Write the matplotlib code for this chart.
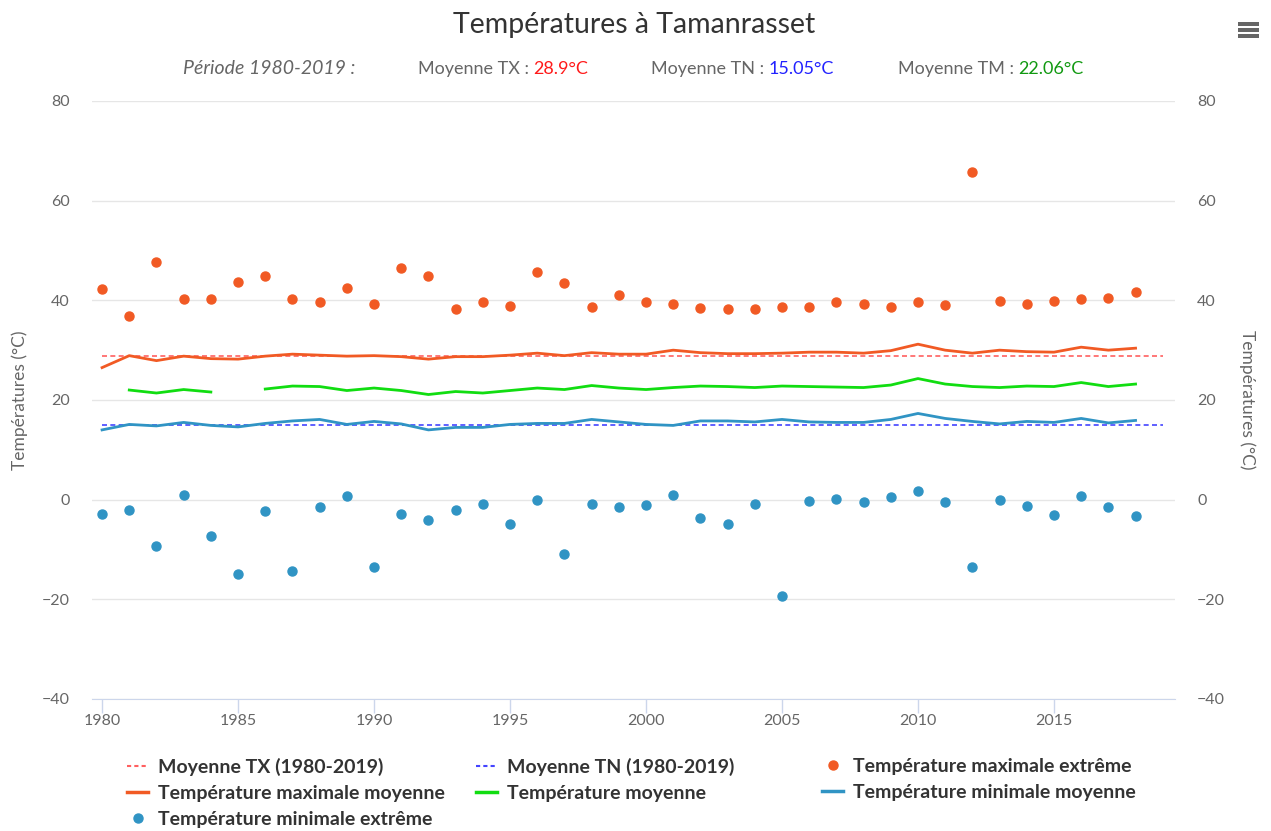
import numpy as np
import matplotlib
matplotlib.use('Agg')
import matplotlib.pyplot as plt
from matplotlib.lines import Line2D
from matplotlib.patches import Rectangle

plt.rcParams['font.family'] = ['Lato', 'DejaVu Sans']

years = list(range(1980, 2019))

tx_extreme = [42.2, 36.9, 47.7, 40.2, 40.2, 43.6, 44.8, 40.2, 39.6, 42.5,
              39.3, 46.5, 44.8, 38.2, 39.6, 38.8, 45.6, 43.4, 38.7, 41.0,
              39.6, 39.3, 38.4, 38.2, 38.2, 38.7, 38.7, 39.6, 39.3, 38.7,
              39.6, 39.0, 65.7, 39.8, 39.3, 39.9, 40.2, 40.4, 41.6]

tn_extreme = [-2.8, -2.0, -9.2, 0.9, -7.2, -15.0, -2.3, -14.4, -1.4, 0.7,
              -13.5, -2.8, -4.0, -2.0, -0.9, -4.9, 0.0, -11.0, -0.8, -1.4,
              -1.1, 0.9, -3.7, -4.8, -0.9, -19.3, -0.3, 0.1, -0.5, 0.5,
              1.8, -0.5, -13.5, -0.1, -1.3, -3.0, 0.7, -1.4, -3.3]

tx_mean = [26.5, 28.9, 27.9, 28.8, 28.3, 28.2, 28.8, 29.2, 29.0, 28.8,
           28.9, 28.7, 28.2, 28.7, 28.7, 29.0, 29.4, 28.9, 29.5, 29.2,
           29.2, 30.0, 29.5, 29.3, 29.3, 29.4, 29.6, 29.6, 29.4, 29.9,
           31.2, 30.0, 29.4, 30.0, 29.7, 29.6, 30.6, 30.0, 30.4]

tm_mean = [np.nan, 22.0, 21.4, 22.1, 21.6, np.nan, 22.2, 22.8, 22.7, 21.9,
           22.4, 21.9, 21.1, 21.7, 21.4, 21.9, 22.4, 22.1, 22.9, 22.4,
           22.1, 22.5, 22.8, 22.7, 22.5, 22.8, 22.7, 22.6, 22.5, 23.0,
           24.3, 23.2, 22.7, 22.5, 22.8, 22.7, 23.5, 22.7, 23.2]

tn_mean = [14.0, 15.1, 14.8, 15.5, 14.9, 14.6, 15.3, 15.8, 16.1, 15.1,
           15.7, 15.2, 14.0, 14.5, 14.5, 15.1, 15.3, 15.3, 16.1, 15.6,
           15.1, 14.9, 15.8, 15.8, 15.6, 16.1, 15.6, 15.5, 15.5, 16.1,
           17.3, 16.3, 15.7, 15.2, 15.7, 15.5, 16.3, 15.4, 15.9]

period = [1980, 2019]
tx_normal = 28.9
tn_normal = 15.05
tm_normal = 22.06

c_orange = '#f15a24'
c_green = '#11dd11'
c_blue = '#3094c4'
c_red_dash = '#ff6060'
c_blue_dash = '#4444ff'
grey = '#666666'

fig = plt.figure(figsize=(12.71, 8.31), dpi=100)
ax = fig.add_axes([92 / 1271, 1 - 699 / 831, (1175 - 92) / 1271, (699 - 101) / 831])

ax.plot(period, [tx_normal] * 2, color=c_red_dash, lw=1.2, ls=(0, (3, 2)), zorder=2)
ax.plot(period, [tn_normal] * 2, color=c_blue_dash, lw=1.2, ls=(0, (3, 2)), zorder=2)
ax.plot(years, tx_mean, color=c_orange, lw=2, zorder=3)
ax.plot(years, tm_mean, color=c_green, lw=2, zorder=3)
ax.plot(years, tn_mean, color=c_blue, lw=2, zorder=3)
ax.plot(years, tx_extreme, 'o', color=c_orange, ms=6.5, zorder=4)
ax.plot(years, tn_extreme, 'o', color=c_blue, ms=6.5, zorder=4)

ax.set_xlim(1979.63, 2019.45)
ax.set_ylim(-40, 80)
ax.set_yticks(range(-40, 81, 20))
ax.set_xticks(range(1980, 2016, 5))
ax.grid(axis='y', color='#e6e6e6', lw=1)
ax.set_axisbelow(True)
for s in ['top', 'left', 'right']:
    ax.spines[s].set_visible(False)
ax.spines['bottom'].set_color('#ccd6eb')
ax.tick_params(axis='x', colors='#ccd6eb', length=10, width=1, labelcolor=grey,
               labelsize=11.5, pad=1)
ax.tick_params(axis='y', length=0, labelcolor=grey, labelsize=11.5, pad=16)
ax.set_ylabel('Températures (°C)', color=grey, fontsize=12.5, labelpad=10)

ax2 = ax.twinx()
ax2.set_ylim(-40, 80)
ax2.set_yticks(range(-40, 81, 20))
for s in ['top', 'left', 'right', 'bottom']:
    ax2.spines[s].set_visible(False)
ax2.tick_params(axis='y', length=0, labelcolor=grey, labelsize=11.5, pad=16)
ax2.set_ylabel('Températures (°C)', color=grey, fontsize=12.5, rotation=270, labelpad=22)

fig.text(634 / 1271, 1 - 25 / 831, 'Températures à Tamanrasset', ha='center', va='center',
         fontsize=20.5, color='#333333')

sub_y = 1 - 69 / 831
fig.text(183 / 1271, sub_y, 'Période 1980-2019 :', style='italic', color=grey,
         fontsize=14, va='center')
for x0, label, val, col in [(418, 'Moyenne TX : ', tx_normal, '#ff1a1a'),
                            (651, 'Moyenne TN : ', tn_normal, '#2222ff'),
                            (898, 'Moyenne TM : ', tm_normal, '#119911')]:
    t = fig.text(x0 / 1271, sub_y, label, color=grey, fontsize=13, va='center')
    fig.canvas.draw()
    bb = t.get_window_extent()
    fig.text(bb.x1 / 1271, sub_y, f'{val:g}°C', color=col, fontsize=13, va='center')

# menu icon
for yy in [24, 30, 36]:
    fig.add_artist(Rectangle((1238 / 1271, 1 - (yy + 2) / 831), 21 / 1271, 4 / 831,
                             transform=fig.transFigure, color='#666666', lw=0))

dash_tx = Line2D([], [], color=c_red_dash, lw=1.5, ls=(0, (2, 1.5)))
dash_tn = Line2D([], [], color=c_blue_dash, lw=1.5, ls=(0, (2, 1.5)))
h_txm = Line2D([], [], color=c_orange, lw=2.5)
h_tm = Line2D([], [], color=c_green, lw=2.5)
h_tnm = Line2D([], [], color=c_blue, lw=2.5)
h_txe = Line2D([], [], color=c_orange, marker='o', ls='none', ms=6.5)
h_tne = Line2D([], [], color=c_blue, marker='o', ls='none', ms=6.5)

leg_kw = dict(frameon=False, loc='upper left', handlelength=1.1, handletextpad=0.5,
              labelspacing=0.45, prop={'weight': 'bold', 'size': 14}, labelcolor='#333333',
              borderaxespad=0, borderpad=0)
fig.legend([dash_tx, h_txm, h_tne],
           ['Moyenne TX (1980-2019)', 'Température maximale moyenne',
            'Température minimale extrême'],
           bbox_to_anchor=(127 / 1271, 1 - 758 / 831), **leg_kw)
fig.legend([dash_tn, h_tm],
           ['Moyenne TN (1980-2019)', 'Température moyenne'],
           bbox_to_anchor=(476 / 1271, 1 - 758 / 831), **leg_kw)
fig.legend([h_txe, h_tnm],
           ['Température maximale extrême', 'Température minimale moyenne'],
           bbox_to_anchor=(822 / 1271, 1 - 758 / 831), **leg_kw)

fig.savefig('out.png', dpi=100, facecolor='white')
